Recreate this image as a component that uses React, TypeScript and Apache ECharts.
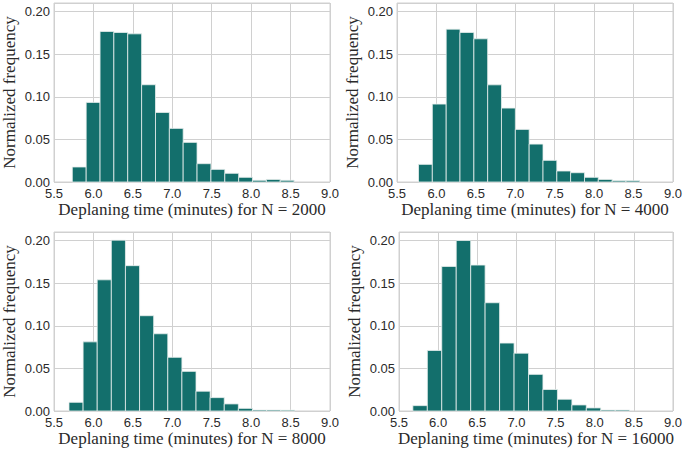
import React, { useEffect, useRef } from "react";
import * as echarts from "echarts";

const titles = [
  "Deplaning time (minutes) for N = 2000",
  "Deplaning time (minutes) for N = 4000",
  "Deplaning time (minutes) for N = 8000",
  "Deplaning time (minutes) for N = 16000",
];

const edges2000 = [5.732, 5.908, 6.084, 6.259, 6.435, 6.611, 6.787, 6.963, 7.138, 7.314, 7.49, 7.666, 7.842, 8.017, 8.193, 8.369, 8.545];
const freq2000 = [0.0176, 0.0934, 0.1766, 0.1754, 0.1738, 0.1141, 0.0816, 0.0629, 0.0465, 0.0215, 0.0148, 0.0102, 0.0055, 0.002, 0.003, 0.002];

const edges4000 = [5.773, 5.948, 6.124, 6.299, 6.475, 6.65, 6.825, 7.001, 7.176, 7.352, 7.527, 7.702, 7.878, 8.053, 8.229, 8.404, 8.58];
const freq4000 = [0.0207, 0.0914, 0.1793, 0.1754, 0.168, 0.114, 0.0867, 0.0617, 0.0445, 0.0254, 0.0129, 0.0109, 0.0055, 0.003, 0.0015, 0.0015];

const edges8000 = [5.69, 5.869, 6.048, 6.227, 6.406, 6.585, 6.764, 6.943, 7.122, 7.301, 7.48, 7.659, 7.838, 8.017, 8.196, 8.375, 8.554];
const freq8000 = [0.0102, 0.0811, 0.1539, 0.2004, 0.1705, 0.1118, 0.0906, 0.063, 0.0465, 0.0232, 0.0157, 0.0083, 0.0031, 0.0012, 0.0012, 0.001];

const edges16000 = [5.677, 5.862, 6.046, 6.231, 6.416, 6.6, 6.785, 6.97, 7.155, 7.339, 7.524, 7.709, 7.893, 8.078, 8.263, 8.447];
const freq16000 = [0.0063, 0.071, 0.1696, 0.2, 0.1712, 0.127, 0.0797, 0.0678, 0.043, 0.0252, 0.0138, 0.0071, 0.0036, 0.0012, 0.0012];

const xTicks = [5.5, 6.0, 6.5, 7.0, 7.5, 8.0, 8.5, 9.0];
const yTicks = [0.0, 0.05, 0.1, 0.15, 0.2];

const panels = [
  { edges: edges2000, freq: freq2000 },
  { edges: edges4000, freq: freq4000 },
  { edges: edges8000, freq: freq8000 },
  { edges: edges16000, freq: freq16000 },
];

const gridPos = [
  { left: 53, top: 3, width: 277, height: 179 },
  { left: 397, top: 3, width: 277, height: 179 },
  { left: 53, top: 232, width: 277, height: 179 },
  { left: 399, top: 232, width: 277, height: 179 },
];

const BAR = "#136f6c";
const GRID = "#d0d0d0";
const LABEL = "#2a2a2a";

export default function App() {
  const ref = useRef<HTMLDivElement>(null);
  useEffect(() => {
    if (!ref.current) return;
    const chart = echarts.init(ref.current, null, { renderer: "svg" });
    const grid = gridPos.map((g) => ({
      ...g,
      show: true,
      borderColor: GRID,
      borderWidth: 1,
      backgroundColor: "transparent",
    }));
    const xAxis = titles.map((t, i) => ({
      type: "value",
      gridIndex: i,
      min: xTicks[0],
      max: xTicks[xTicks.length - 1],
      interval: 0.5,
      name: t,
      nameLocation: "middle",
      nameGap: 19,
      nameTextStyle: { fontFamily: "Liberation Serif", fontSize: 17, color: LABEL },
      axisLine: { show: false },
      axisTick: { show: false },
      axisLabel: {
        margin: 5,
        fontFamily: "Liberation Sans",
        fontSize: 13,
        color: LABEL,
        formatter: (v: number) => v.toFixed(1),
      },
      splitLine: { show: true, lineStyle: { color: GRID, width: 1 } },
    }));
    const yAxis = titles.map((_, i) => ({
      type: "value",
      gridIndex: i,
      min: 0,
      max: 0.21,
      interval: 0.05,
      name: "Normalized frequency",
      nameLocation: "middle",
      nameGap: 36,
      nameTextStyle: { fontFamily: "Liberation Serif", fontSize: 17, color: LABEL },
      axisLine: { show: false },
      axisTick: { show: false },
      axisLabel: {
        margin: 4,
        fontFamily: "Liberation Sans",
        fontSize: 13,
        color: LABEL,
        formatter: (v: number) =>
          yTicks.some((t) => Math.abs(t - v) < 1e-9) ? v.toFixed(2) : "",
      },
      splitLine: { show: true, lineStyle: { color: GRID, width: 1 } },
    }));
    const series = panels.map((p, i) => ({
      type: "custom",
      xAxisIndex: i,
      yAxisIndex: i,
      encode: { x: [0, 1], y: 2 },
      data: p.freq.map((f, k) => [p.edges[k], p.edges[k + 1], f]),
      renderItem: (params: any, api: any) => {
        const a = api.coord([api.value(0), api.value(2)]);
        const b = api.coord([api.value(1), 0]);
        return {
          type: "rect",
          shape: { x: a[0], y: a[1], width: b[0] - a[0], height: b[1] - a[1] },
          style: { fill: BAR, stroke: "#e8efee", lineWidth: 0.8 },
        };
      },
    }));
    chart.setOption({
      animation: false,
      backgroundColor: "#ffffff",
      grid,
      xAxis,
      yAxis,
      series,
    });
    return () => chart.dispose();
  }, []);
  return (
    <div
      ref={ref}
      style={{ position: "fixed", left: 0, top: 0, width: 685, height: 452 }}
    />
  );
}
